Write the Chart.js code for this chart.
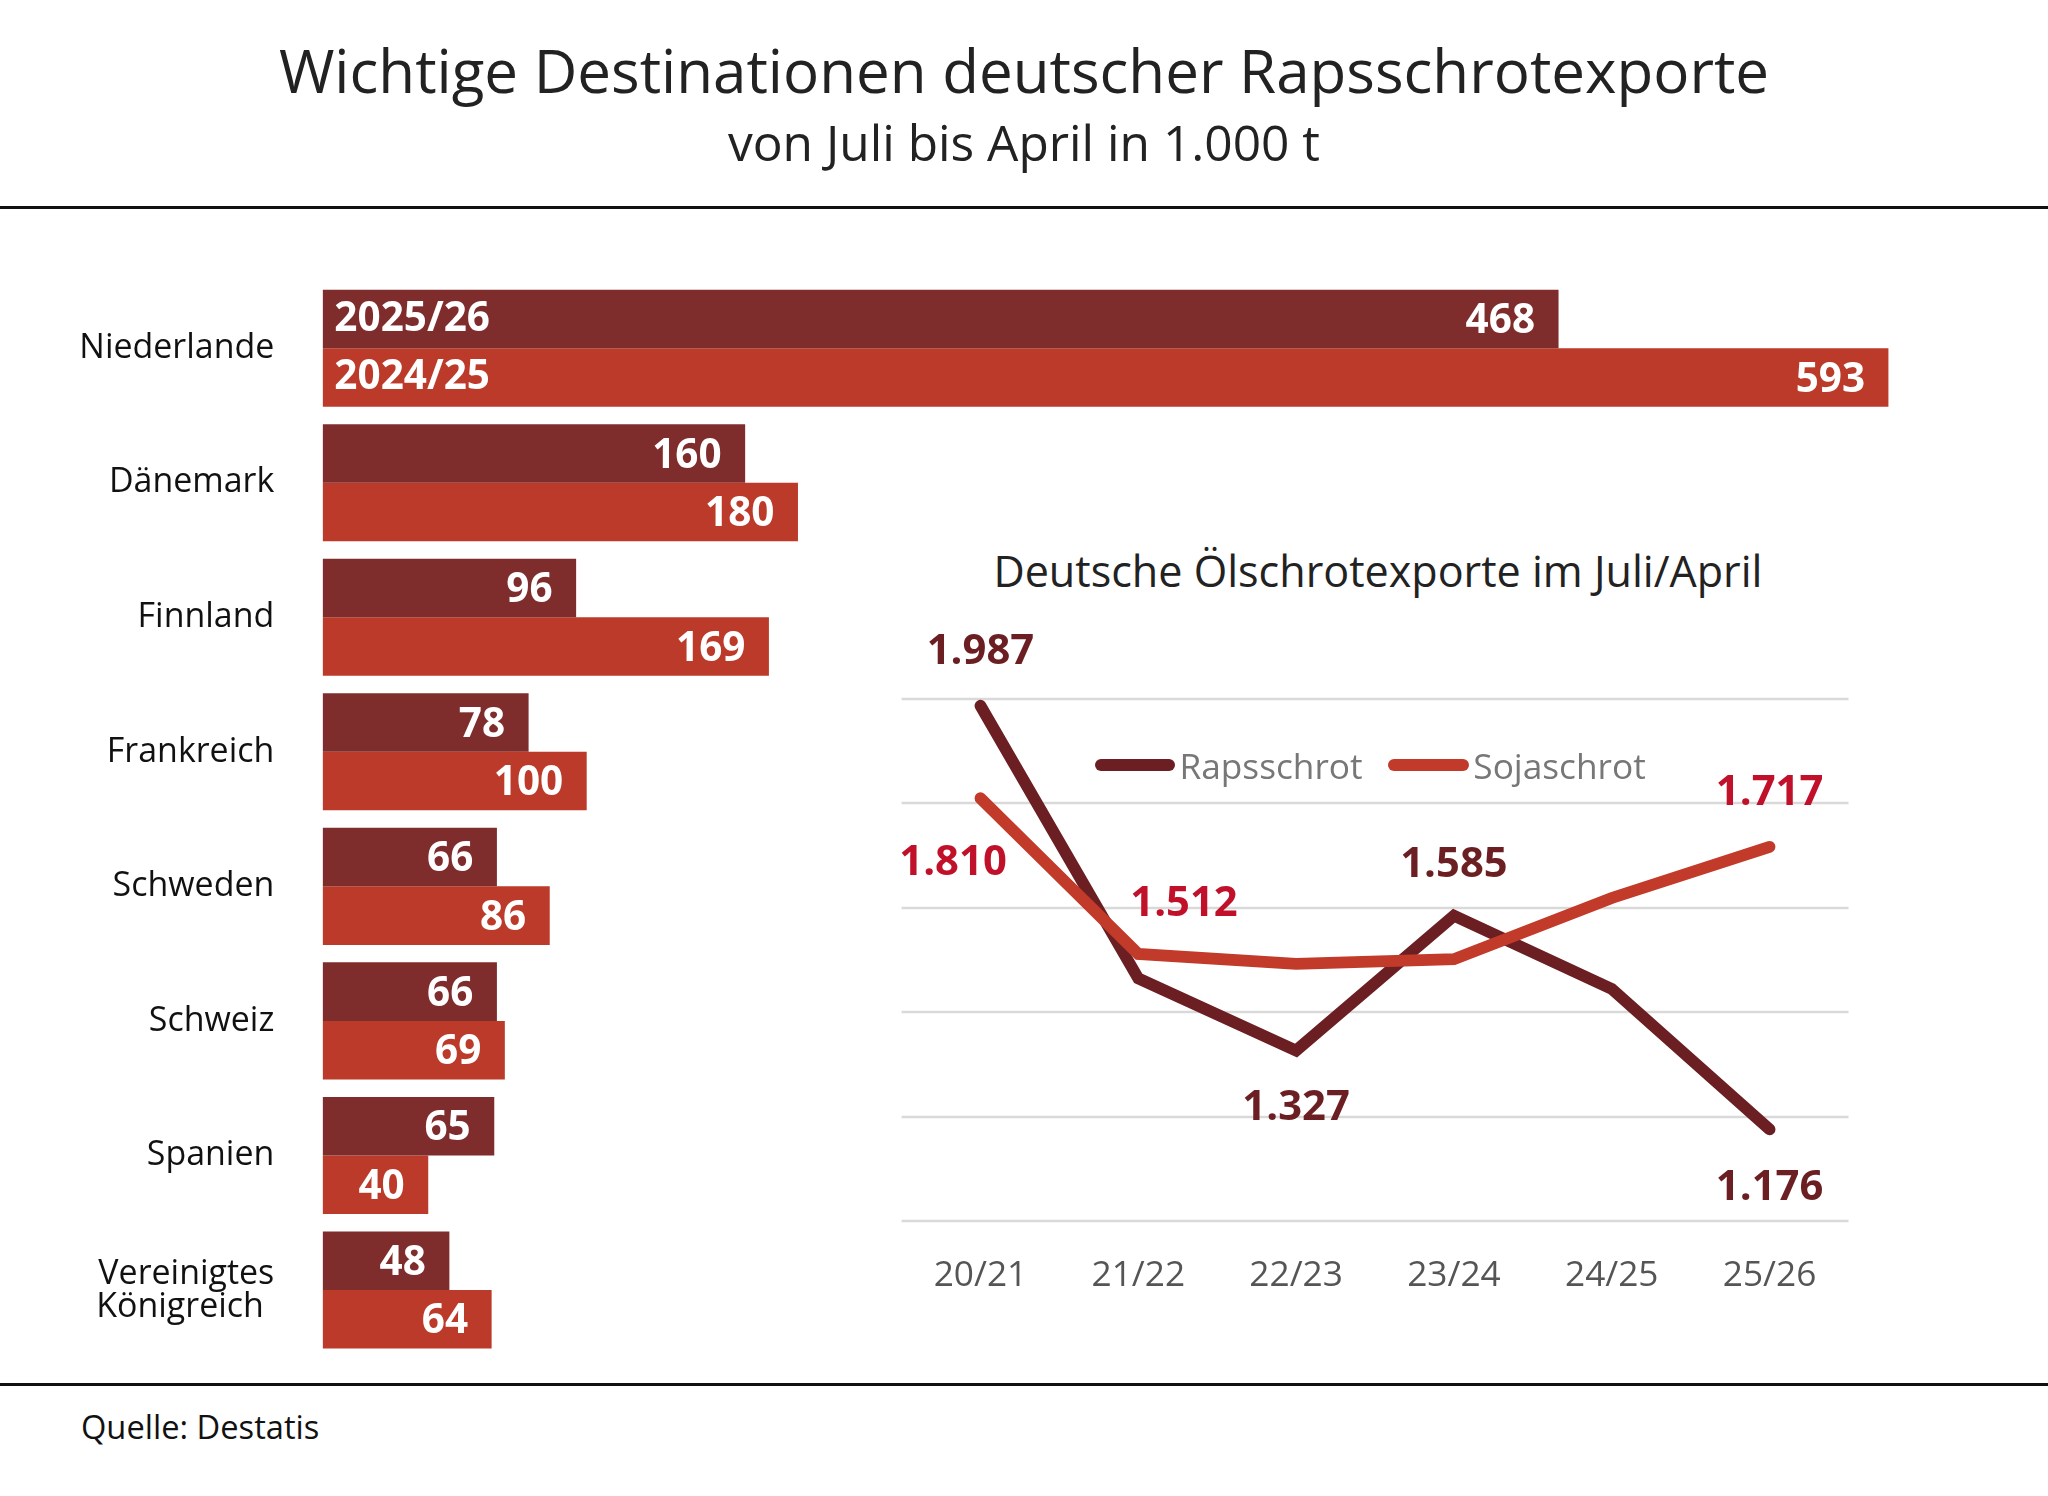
<!DOCTYPE html>
<html><head><meta charset="utf-8">
<script src="https://cdn.jsdelivr.net/npm/chart.js@4"></script>
<style>
body{margin:0;background:#fff;font-family:"Open Sans",sans-serif;}
#page{position:relative;width:2048px;height:1496px;overflow:hidden;background:#fff;}
.abs{position:absolute;}
</style></head><body><div id="page"></div>
<script>
const countries=["Niederlande","Dänemark","Finnland","Frankreich","Schweden","Schweiz","Spanien",["Vereinigtes","Königreich"]];
const exp2526=[468,160,96,78,66,66,65,48];
const exp2425=[593,180,169,100,86,69,40,64];
const years=["20/21","21/22","22/23","23/24","24/25","25/26"];
const raps=[1987,1465,1327,1585,1445,1176];
const soja=[1810,1512,1493,1502,1619,1717];
const rapsLabels=["1.987",null,"1.327","1.585",null,"1.176"];
const sojaLabels=["1.810","1.512",null,null,null,"1.717"];

const S=2048/1568;
const P=v=>v*S;
const page=document.getElementById('page');
function el(tag,css,html){const e=document.createElement(tag);e.className='abs';e.style.cssText=css;if(html!=null)e.innerHTML=html;page.appendChild(e);return e;}
el('div',`left:0;width:2048px;top:${P(22)}px;text-align:center;font-size:${P(46)}px;color:#222;`,"Wichtige Destinationen deutscher Rapsschrotexporte");
el('div',`left:0;width:2048px;top:${P(83)}px;text-align:center;font-size:${P(38)}px;color:#222;`,"von Juli bis April in 1.000 t");
el('div',`left:0;width:2048px;top:${P(158)}px;height:${P(2)}px;background:#111;`);
el('div',`left:0;width:2048px;top:${P(1059)}px;height:${P(2)}px;background:#111;`);
el('div',`left:${P(62)}px;top:${P(1075)}px;font-size:${P(25)}px;color:#111;`,"Quelle: Destatis");
el('div',`left:${P(700)}px;width:${P(710)}px;top:${P(414)}px;text-align:center;font-size:${P(33)}px;color:#222;`,"Deutsche Ölschrotexporte im Juli/April");

const DARK='#7f2d2c', RED='#bc3a29', LDARK='#6b1f22', LRED='#c23b2a';

// bar chart
const c1=el('div',`left:0;top:${P(215)}px;width:${P(1470)}px;height:${P(824)}px;`).appendChild(document.createElement('canvas'));
new Chart(c1,{type:'bar',
 data:{labels:countries,datasets:[
  {data:exp2526,backgroundColor:DARK,barPercentage:1,categoryPercentage:0.87},
  {data:exp2425,backgroundColor:RED,barPercentage:1,categoryPercentage:0.87}]},
 options:{indexAxis:'y',responsive:true,maintainAspectRatio:false,animation:false,devicePixelRatio:1,
  layout:{padding:{left:P(247),right:P(24),top:0,bottom:0}},
  plugins:{legend:{display:false},tooltip:{enabled:false}},
  scales:{x:{display:false,min:0,max:593},y:{display:false}}},
 plugins:[{id:'lbl',afterDatasetsDraw(ch){
  const ctx=ch.ctx;ctx.save();
  ctx.textBaseline='middle';
  ctx.font=`bold ${P(31)}px "Open Sans"`;ctx.fillStyle='#fff';
  ch.data.datasets.forEach((ds,di)=>{ch.getDatasetMeta(di).data.forEach((b,i)=>{
    ctx.textAlign='right';ctx.fillText(String(ds.data[i]),b.x-P(18),b.y+P(2));
    if(i===0){ctx.textAlign='left';ctx.fillText(di===0?'2025/26':'2024/25',ch.chartArea.left+P(9),b.y);}
  });});
  ctx.font=`${P(26)}px "Open Sans"`;ctx.fillStyle='#111';ctx.textAlign='right';
  const ys=ch.scales.y;
  ch.data.labels.forEach((l,i)=>{const y=ys.getPixelForValue(i);
    if(Array.isArray(l)){ctx.fillText(l[0],P(210),y-P(12));ctx.fillText(l[1],P(202),y+P(13));}
    else ctx.fillText(l,P(210),y);});
  ctx.restore();}}]
});

// legend
el('div',`left:${P(838)}px;top:${P(581)}px;width:${P(62)}px;height:${P(9)}px;border-radius:${P(5)}px;background:${LDARK};`);
el('div',`left:${P(903)}px;top:${P(567)}px;font-size:${P(27)}px;color:#777;`,"Rapsschrot");
el('div',`left:${P(1063)}px;top:${P(581)}px;width:${P(62)}px;height:${P(9)}px;border-radius:${P(5)}px;background:${LRED};`);
el('div',`left:${P(1128)}px;top:${P(567)}px;font-size:${P(27)}px;color:#777;`,"Sojaschrot");

// line chart
const L0=600,T0=460;
const c2=el('div',`left:${P(L0)}px;top:${P(T0)}px;width:${P(850)}px;height:${P(560)}px;`).appendChild(document.createElement('canvas'));
new Chart(c2,{type:'line',
 data:{labels:years,datasets:[
  {data:raps,borderColor:LDARK,borderWidth:P(9),pointRadius:0,tension:0,borderCapStyle:'round',order:2},
  {data:soja,borderColor:LRED,borderWidth:P(9),pointRadius:0,tension:0,borderCapStyle:'round',order:1}]},
 options:{responsive:true,maintainAspectRatio:false,animation:false,devicePixelRatio:1,
  layout:{padding:{left:P(690-L0),right:P(1450-1415),top:P(535-T0),bottom:P(T0+560-935)}},
  plugins:{legend:{display:false},tooltip:{enabled:false}},
  scales:{x:{display:false,offset:true},y:{display:false,min:1000,max:2000}}},
 plugins:[{id:'grid',beforeDatasetsDraw(ch){
   const ctx=ch.ctx,a=ch.chartArea,ys=ch.scales.y;ctx.save();ctx.strokeStyle='#d9d9d9';ctx.lineWidth=P(2);
   for(let v=1000;v<=2000;v+=200){const y=Math.round(ys.getPixelForValue(v));ctx.beginPath();ctx.moveTo(a.left,y);ctx.lineTo(a.right,y);ctx.stroke();}
   ctx.font=`${P(27)}px "Open Sans"`;ctx.fillStyle='#555';ctx.textAlign='center';ctx.textBaseline='middle';
   ch.data.labels.forEach((l,i)=>ctx.fillText(l,ch.scales.x.getPixelForValue(i),a.bottom+P(42)));
   ctx.restore();},
  afterDatasetsDraw(ch){
   const ctx=ch.ctx;ctx.save();ctx.textAlign='center';ctx.textBaseline='middle';
   ctx.font=`bold ${P(32)}px "Open Sans"`;
   const rOff=[[0,-41],[0,0],[0,44],[0,-39],[0,0],[0,45]];
   const sOff=[[-21,50],[35,-38],[0,0],[0,0],[0,0],[0,-41]];
   [[0,rapsLabels,rOff,LDARK],[1,sojaLabels,sOff,'#c0102a']].forEach(([di,labs,off,col])=>{
     ctx.fillStyle=col;
     ch.getDatasetMeta(di).data.forEach((p,i)=>{if(labs[i])ctx.fillText(labs[i],p.x+P(off[i][0]),p.y+P(off[i][1]));});
   });
   ctx.restore();}}]
});
</script></body></html>
